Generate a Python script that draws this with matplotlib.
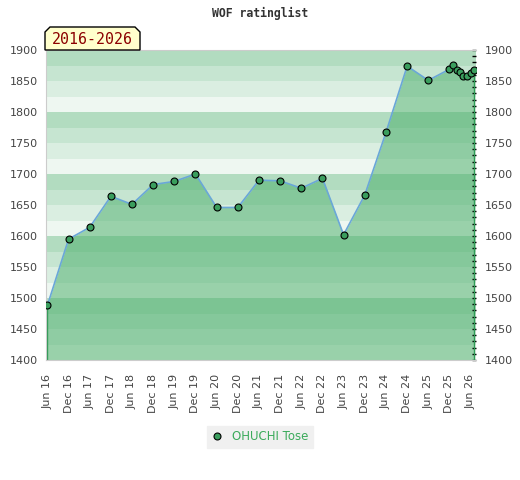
import datetime as dt
import matplotlib
matplotlib.use("Agg")
import matplotlib.pyplot as plt
from matplotlib.patches import Polygon
from matplotlib.lines import Line2D

# rating list dates and values
dates = [
    (2016, 6), (2016, 12), (2017, 6), (2017, 12), (2018, 6), (2018, 12),
    (2019, 6), (2019, 12), (2020, 6), (2020, 12), (2021, 6), (2021, 12),
    (2022, 6), (2022, 12), (2023, 6), (2023, 12), (2024, 6), (2024, 12),
    (2025, 6), (2025, 12), (2026, 1), (2026, 2), (2026, 3), (2026, 4),
    (2026, 5), (2026, 6), (2026, 7),
]
ratings = [
    1488, 1595, 1614, 1664, 1651, 1683, 1688, 1700, 1646, 1646, 1690, 1689,
    1677, 1693, 1602, 1666, 1767, 1874, 1851, 1869, 1876, 1868, 1865, 1858,
    1858, 1863, 1867,
]
tick_dates = [(y, m) for y in range(2016, 2027) for m in (6, 12)][:-1]
tick_labels = [("Jun " if m == 6 else "Dec ") + str(y)[2:] for y, m in tick_dates]
player = "OHUCHI Tose"
period = "2016-2026"

x = [dt.datetime(y, m, 1) for y, m in dates]
xt = [dt.datetime(y, m, 1) for y, m in tick_dates]

fig = plt.figure(figsize=(5.2, 4.8), dpi=100)
ax = fig.add_axes([46 / 520, 1 - 360 / 480, 430 / 520, 310 / 480])

# striped background
band_cols = ["#eef7f1", "#daeee1", "#c6e5d1", "#b2dcc0"]
for i, lo in enumerate(range(1400, 1900, 25)):
    ax.axhspan(lo, lo + 25, color=band_cols[i % 4], lw=0, zorder=0)

ax.fill_between(x, ratings, 1400, color="#4bae6a", alpha=0.52, lw=0, zorder=1)
ax.vlines([x[0], x[-1]], 1400, [ratings[0], ratings[-1]], color="#2f9a55", lw=1, zorder=2)
ax.plot(x, ratings, color="#6aa7d8", lw=1.2, zorder=3)
ax.plot(x, ratings, ls="none", marker="o", ms=5.0, mfc="#3a9d5d", mec="black",
        mew=0.8, zorder=4)

ax.set_ylim(1400, 1900)
ax.set_xlim(dt.datetime(2016, 5, 20), dt.datetime(2026, 7, 18))
ax.set_xticks(xt)
ax.set_xticklabels(tick_labels, rotation=90, fontsize=8, color="#444444")
ax.tick_params(axis="x", length=0, pad=10)
ax.set_yticks(range(1400, 1901, 50))
ax.yaxis.set_minor_locator(plt.MultipleLocator(10))
ax.tick_params(axis="y", which="both", labelsize=8, labelcolor="#444444",
               left=False, right=True, labelleft=True, labelright=True,
               direction="in", length=3, width=1, color="black", pad=6)
for s in ("left", "top", "bottom"):
    ax.spines[s].set_color("#cccccc")
ax.spines["right"].set_visible(False)

fig.text(0.5, 1 - 13 / 480, "WOF ratinglist", ha="center", va="center",
         family="DejaVu Sans Mono", weight="bold", fontsize=8.3, color="#333333")

# period label box
pts = [(45, 50), (45, 32), (50, 27), (135, 27), (140, 32), (140, 50)]
fig.patches.append(Polygon([(px / 520, 1 - py / 480) for px, py in pts], closed=True,
                           transform=fig.transFigure, fc="#ffffcc", ec="black",
                           lw=1, zorder=5))
fig.text(92.5 / 520, 1 - 39.5 / 480, period, ha="center", va="center",
         family="DejaVu Sans Mono", fontsize=10.7, color="#8b0000", zorder=6)

handle = Line2D([], [], ls="none", marker="o", ms=5.0, mfc="#3a9d5d", mec="black", mew=0.8)
fig.legend([handle], [player], loc="center", bbox_to_anchor=(260 / 520, 1 - 437 / 480),
           fontsize=8.5, labelcolor="#3aaa5a", facecolor="#f0f0f0", edgecolor="#f0f0f0",
           fancybox=False, framealpha=1, handlelength=1, handletextpad=0.8,
           borderpad=0.35)

fig.savefig("out.png", dpi=100)
